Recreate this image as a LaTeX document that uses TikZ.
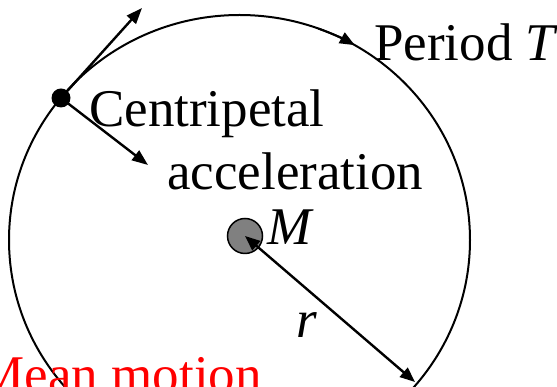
\documentclass[tikz,border=0pt]{standalone}
\usepackage{fontspec}
\setmainfont{Liberation Serif}
\usetikzlibrary{arrows.meta}
\begin{document}
\begin{tikzpicture}[x=1pt,y=1pt,
  lbl/.style={inner sep=0pt,anchor=base west,font=\fontsize{53}{60}\selectfont},
  vec/.style={line width=2.4pt,-{Triangle[length=16pt,width=12pt]}},
  orbit/.style={line width=2pt}]
\useasboundingbox (0,0) rectangle (557,387);
\clip (0,0) rectangle (557,387);
\coordinate (C) at (239.5,147);
% orbit
\draw[orbit] (C) ellipse [x radius=230.5pt, y radius=225pt];
\draw[orbit,-{Triangle[length=15pt,width=12pt]}] ([shift={(C)}]70:230.5pt and 225pt)
  arc[start angle=70, end angle=60, x radius=230.5pt, y radius=225pt];
\coordinate (rend) at (415,5);
\coordinate (vt) at (142,379);
\coordinate (ac) at (148,222);
% arrows from body
\coordinate (body) at (61,289);
\draw[vec] (body) -- (vt);
\draw[vec] (body) -- (ac);
\node[circle,fill=black,minimum size=19pt,inner sep=0pt] (dot) at (body) {};
% central mass
\node[circle,draw=black,line width=1.5pt,fill=black!50,minimum size=35pt,inner sep=0pt] (mass) at (245,151) {};
\draw[line width=2.4pt,{Triangle[length=15pt,width=12pt]}-{Triangle[length=15pt,width=12pt]}] (mass.center) -- (rend);
% labels
\node[lbl] (tc) at (89,260) {Centripetal};
\node[lbl] (ta) at (167,197) {acceleration};
\node[lbl] (tp) at (374,326) {Period \textit{T}};
\node[lbl] (tm) at (267,142) {\textit{M}};
\node[lbl] (tr) at (296,49) {\textit{r}};
\node[lbl,anchor=base east,text=red] (tmm) at (262,-6) {Mean motion};
\end{tikzpicture}
\end{document}
